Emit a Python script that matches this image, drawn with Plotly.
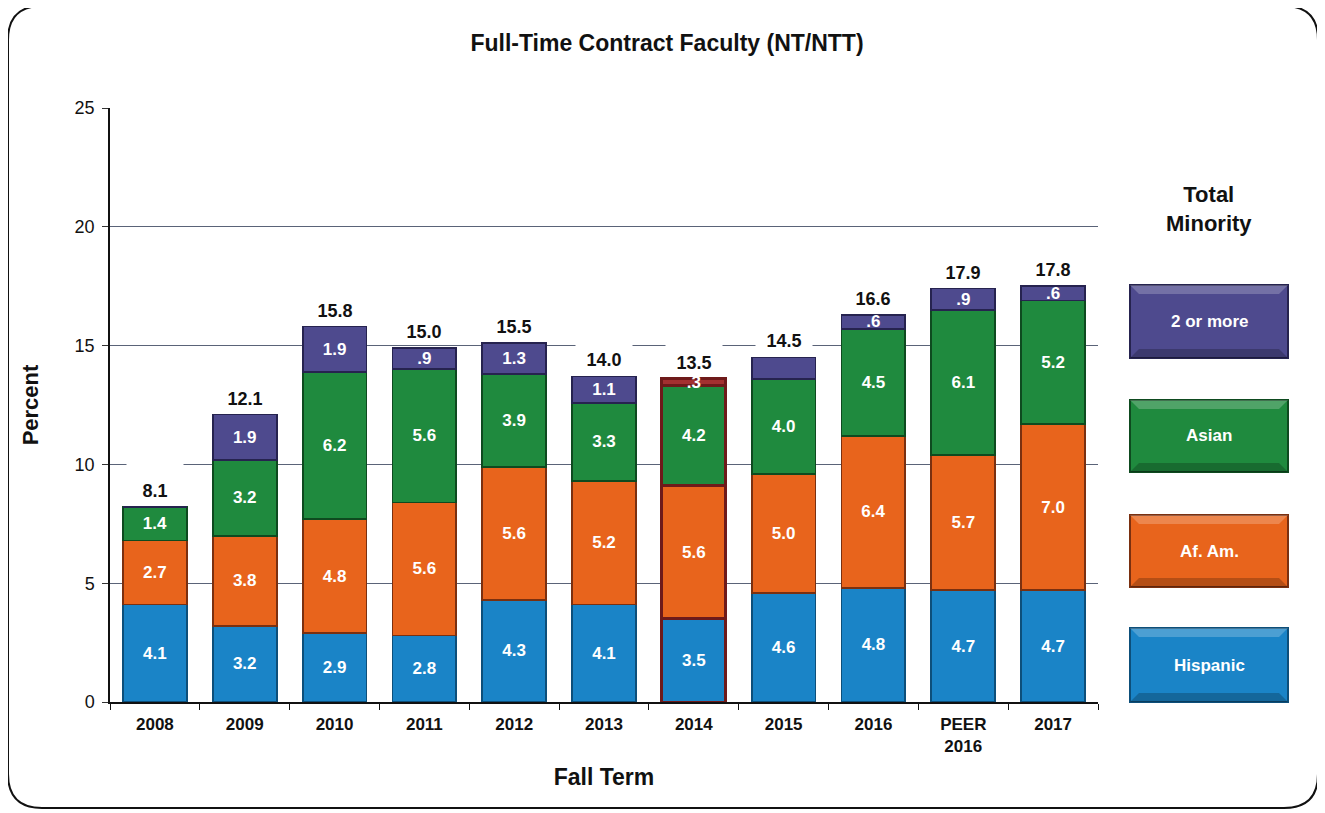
import plotly.graph_objects as go

categories = ["2008", "2009", "2010", "2011", "2012", "2013", "2014", "2015", "2016", "PEER<br>2016", "2017"]
hispanic = [4.1, 3.2, 2.9, 2.8, 4.3, 4.1, 3.5, 4.6, 4.8, 4.7, 4.7]
af_am = [2.7, 3.8, 4.8, 5.6, 5.6, 5.2, 5.6, 5.0, 6.4, 5.7, 7.0]
asian = [1.4, 3.2, 6.2, 5.6, 3.9, 3.3, 4.2, 4.0, 4.5, 6.1, 5.2]
two_more = [0.0, 1.9, 1.9, 0.9, 1.3, 1.1, 0.3, 0.9, 0.6, 0.9, 0.6]
hispanic_lbl = ["4.1", "3.2", "2.9", "2.8", "4.3", "4.1", "3.5", "4.6", "4.8", "4.7", "4.7"]
af_am_lbl = ["2.7", "3.8", "4.8", "5.6", "5.6", "5.2", "5.6", "5.0", "6.4", "5.7", "7.0"]
asian_lbl = ["1.4", "3.2", "6.2", "5.6", "3.9", "3.3", "4.2", "4.0", "4.5", "6.1", "5.2"]
two_more_lbl = ["", "1.9", "1.9", ".9", "1.3", "1.1", ".3", "", ".6", ".9", ".6"]
totals_lbl = ["8.1", "12.1", "15.8", "15.0", "15.5", "14.0", "13.5", "14.5", "16.6", "17.9", "17.8"]
highlight = "2014"

series = [
    ("Hispanic", hispanic, hispanic_lbl, "#1a84c7", "#0d4f7a"),
    ("Af. Am.", af_am, af_am_lbl, "#e8641c", "#7a3010"),
    ("Asian", asian, asian_lbl, "#1f8a3e", "#0e4a1f"),
    ("2 or more", two_more, two_more_lbl, "#4e4a8e", "#26234f"),
]

OFF = 8  # page body margin
W, H = 1325 - OFF, 813 - OFF
L, R, T, B = 110, 1098, 108, 702


def px(x):
    return (x - L) / (R - L)


def py(y):
    return (B - y) / (B - T)


FONT = "Liberation Sans, Arial, sans-serif"
fig = go.Figure()
for name, vals, lbls, col, dark in series:
    colors = []
    lines = []
    widths = []
    for c in categories:
        if c == highlight:
            colors.append("#a33030" if name == "2 or more" else col)
            lines.append("#6e1a1a")
            widths.append(3)
        else:
            colors.append(col)
            lines.append(dark)
            widths.append(1.8)
    fig.add_trace(go.Bar(
        x=categories, y=vals, name=name, text=lbls, texttemplate="<b>%{text}</b>",
        textposition="inside", insidetextanchor="middle", textangle=0,
        constraintext="none",
        textfont=dict(color="white", size=17, family=FONT),
        marker=dict(color=colors, line=dict(color=lines, width=widths)),
        showlegend=False, hoverinfo="skip",
    ))

stack_tops = [a + b + c + d for a, b, c, d in zip(hispanic, af_am, asian, two_more)]
for i, (top, lbl) in enumerate(zip(stack_tops, totals_lbl)):
    fig.add_annotation(x=i, y=top, text="<b>" + lbl + "</b>", showarrow=False,
                       xanchor="center", yanchor="bottom", yshift=4, bgcolor="white",
                       width=54, height=36, valign="bottom",
                       font=dict(size=18, color="#111", family=FONT))

shapes = []
# rounded outer border
x0, x1, y0, y1 = px(8), px(1318), py(808), py(6)
rx, ry = 34 / (R - L), 34 / (B - T)
path = (f"M {x0+rx},{y1} L {x1-rx},{y1} Q {x1},{y1} {x1},{y1-ry} "
        f"L {x1},{y0+ry} Q {x1},{y0} {x1-rx},{y0} L {x0+rx},{y0} "
        f"Q {x0},{y0} {x0},{y0+ry} L {x0},{y1-ry} Q {x0},{y1} {x0+rx},{y1} Z")
shapes.append(dict(type="path", xref="paper", yref="paper", path=path,
                   line=dict(color="#111", width=2), layer="below"))

# legend boxes with simple bevel
legend_boxes = [("2 or more", 285, 358), ("Asian", 400, 472), ("Af. Am.", 515, 587), ("Hispanic", 628, 702)]
sdict = {s[0]: s for s in series}
bx0, bx1, bv = 1130, 1288, 9
for name, ytop, ybot in legend_boxes:
    col, dark = sdict[name][3], sdict[name][4]
    shapes.append(dict(type="rect", xref="paper", yref="paper",
                       x0=px(bx0), x1=px(bx1), y0=py(ybot), y1=py(ytop),
                       fillcolor=col, line=dict(color=dark, width=2)))
    top_bev = (f"M {px(bx0)},{py(ytop)} L {px(bx1)},{py(ytop)} L {px(bx1-bv)},{py(ytop+bv)} "
               f"L {px(bx0+bv)},{py(ytop+bv)} Z")
    shapes.append(dict(type="path", xref="paper", yref="paper", path=top_bev,
                       fillcolor="rgba(255,255,255,0.22)", line=dict(width=0)))
    bot_bev = (f"M {px(bx0)},{py(ybot)} L {px(bx1)},{py(ybot)} L {px(bx1-bv)},{py(ybot-bv)} "
               f"L {px(bx0+bv)},{py(ybot-bv)} Z")
    shapes.append(dict(type="path", xref="paper", yref="paper", path=bot_bev,
                       fillcolor="rgba(0,0,0,0.22)", line=dict(width=0)))
    fig.add_annotation(xref="paper", yref="paper", x=px((bx0 + bx1) / 2), y=py((ytop + ybot) / 2),
                       xanchor="center", yanchor="middle",
                       text="<b>" + name + "</b>", showarrow=False,
                       font=dict(size=17, color="white", family=FONT))

fig.add_annotation(xref="paper", yref="paper", x=px(1209), y=py(209),
                   xanchor="center", yanchor="middle",
                   text="<b>Total<br>Minority</b>", showarrow=False,
                   font=dict(size=22, color="#111", family=FONT))

fig.update_layout(
    width=W, height=H,
    margin=dict(l=L - OFF, r=W - (R - OFF), t=T - OFF, b=H - (B - OFF)),
    paper_bgcolor="white", plot_bgcolor="white",
    barmode="stack", bargap=0.29,
    uniformtext=dict(minsize=17, mode="show"),
    shapes=shapes,
    title=dict(text="<b>Full-Time Contract Faculty (NT/NTT)</b>", xref="paper", x=px(667),
               xanchor="center", yref="container", y=1 - (43 - OFF) / H, yanchor="middle",
               font=dict(size=23, color="#111", family=FONT)),
    font=dict(family=FONT, color="#111"),
)
fig.update_yaxes(range=[0, 25], dtick=5, tick0=0, showgrid=True, gridcolor="#5a6378", gridwidth=1.2,
                 showline=True, linecolor="#111", linewidth=1.5, ticks="outside", ticklen=6,
                 tickcolor="#333", tickfont=dict(size=18, family=FONT), ticklabelstandoff=4,
                 title=dict(text="<b>Percent</b>", font=dict(size=22, family=FONT), standoff=30),
                 zeroline=False)
fig.update_xaxes(type="category", range=[-0.5, len(categories) - 0.5],
                 showline=True, linecolor="#111", linewidth=1.5,
                 ticks="outside", ticklen=6, tickson="boundaries", tickcolor="#111",
                 tickfont=dict(size=17, family=FONT, color="#111"), ticklabelstandoff=6,
                 tickprefix="<b>", ticksuffix="</b>",
                 title=dict(text="<b>Fall Term</b>", font=dict(size=23, family=FONT), standoff=14))

fig.write_html("out.html")
